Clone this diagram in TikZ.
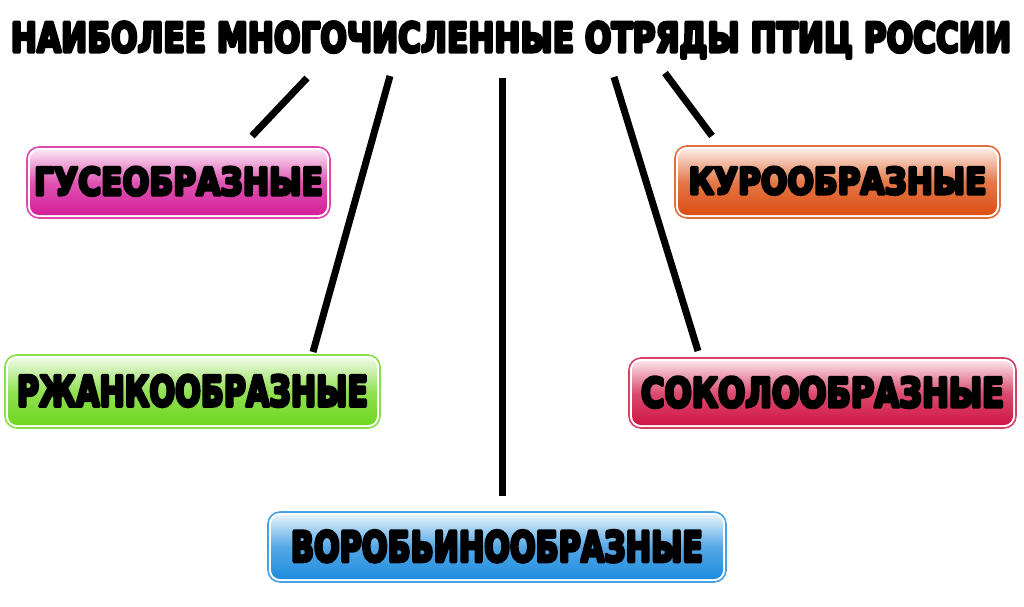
\documentclass[tikz,border=0pt]{standalone}
\usepackage{fontspec}
\usepackage{graphicx}
\newfontfamily\heavy{DejaVu Sans Bold}
\definecolor{cmag}{HTML}{D41A98}
\definecolor{cgrn}{HTML}{6CD61A}
\definecolor{corg}{HTML}{DC4A0C}
\definecolor{ccrm}{HTML}{CF1040}
\definecolor{cblu}{HTML}{1A8ADE}
\newcommand{\strokeon}{\special{pdf:literal direct 0 0 0 RG 2 Tr 0.85 w 1 j}}
\newcommand{\strokeoff}{\special{pdf:literal direct 0 Tr}}
\newcommand{\fitlabel}[3]{\resizebox{#1pt}{#2pt}{\heavy\strokeon #3\strokeoff}}
\tikzset{
  ordbox/.style={rounded corners=12pt, draw=#1!80, line width=1.6pt,
    fill=white, inner sep=0pt, anchor=center,
    path picture={\shade[rounded corners=9pt, top color=#1!6, bottom color=#1, middle color=#1!75]
      ([shift={(3pt,-3pt)}]path picture bounding box.north west) rectangle
      ([shift={(-3pt,3pt)}]path picture bounding box.south east);}},
  conn/.style={line width=7pt, black}
}
\begin{document}
\begin{tikzpicture}[x=1pt,y=-1pt]
\useasboundingbox (0,0) rectangle (1024,606);
\fill[white] (0,0) rectangle (1024,606);
\node[inner sep=0pt] (title) at (511,40) {\fitlabel{1000}{30}{НАИБОЛЕЕ МНОГОЧИСЛЕННЫЕ ОТРЯДЫ ПТИЦ РОССИИ}};

\node[ordbox=cmag, minimum width=303pt, minimum height=71pt] (gus) at (178.5,182.5) {\raisebox{3pt}{\fitlabel{289}{28}{ГУСЕОБРАЗНЫЕ}}};
\node[ordbox=cgrn, minimum width=375pt, minimum height=73pt] (rzh) at (192.5,391.5) {\raisebox{2pt}{\fitlabel{351}{31}{РЖАНКООБРАЗНЫЕ}}};
\node[ordbox=cblu, minimum width=458pt, minimum height=70pt] (vor) at (497,547) {\raisebox{2pt}{\fitlabel{412}{31}{ВОРОБЬИНООБРАЗНЫЕ}}};
\node[ordbox=corg, minimum width=325pt, minimum height=72pt] (kur) at (837.5,182) {\raisebox{3pt}{\fitlabel{298}{27}{КУРООБРАЗНЫЕ}}};
\node[ordbox=ccrm, minimum width=387pt, minimum height=70pt] (sok) at (822.5,393) {\raisebox{2pt}{\fitlabel{363}{30}{СОКОЛООБРАЗНЫЕ}}};

\coordinate (t1) at (307,78);  \coordinate (b1) at (252,136);
\coordinate (t2) at (390,76);  \coordinate (b2) at (313,352);
\coordinate (t3) at (502,78);  \coordinate (b3) at (502,496);
\coordinate (t4) at (614,77);  \coordinate (b4) at (698,351);
\coordinate (t5) at (665,73);  \coordinate (b5) at (712,136);

\draw[conn] (t1) -- (b1);
\draw[conn] (t2) -- (b2);
\draw[conn] (t3) -- (b3);
\draw[conn] (t4) -- (b4);
\draw[conn] (t5) -- (b5);
\end{tikzpicture}
\end{document}
